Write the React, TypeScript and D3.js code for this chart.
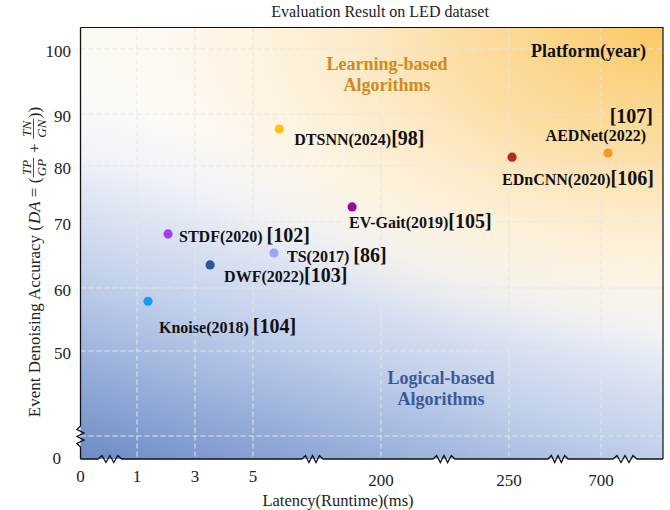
import React, { useMemo } from 'react';
import * as d3 from 'd3';

// axis values (the axis is broken, so each tick gets its own slot)
const xTicks = [0, 1, 3, 5, 200, 250, 700];
const yTicks = [0, 50, 60, 70, 80, 90, 100];
const yGrid = [10, 50, 60, 70, 80, 90, 100];

// methods
const names = ['DTSNN(2024)', 'EDnCNN(2020)', 'AEDNet(2022)', 'EV-Gait(2019)', 'STDF(2020) ', 'TS(2017) ', 'DWF(2022)', 'Knoise(2018) '];
const refs = ['[98]', '[106]', '[107]', '[105]', '[102]', '[86]', '[103]', '[104]'];
const latency = [45, 265, 734, 156, 2.07, 37, 3.52, 1.38];
const accuracy = [87.1, 81.7, 82.5, 72.7, 68.2, 65.3, 63.5, 57.9];
const colors = ['#fbc21b', '#b52a1a', '#f59a22', '#9c0a9e', '#a33cf5', '#a0a4f0', '#2e5597', '#139ef5'];

// axis break marks (in data units)
const xBreaks = [[0.31, 0.73], [79.6, 111.6], [220.3, 228.9], [440.8, 538.6], [758, 874]];
const yBreak = [5.2, 14.7];

// label placement relative to the dot
const labelPos = [
    { dx: 15, dy: 16, anchor: 'start' },
    { dx: -10, dy: 28, anchor: 'start' },
    { dx: 38, dy: -12, anchor: 'end', refDx: 45, refDy: -30 },
    { dx: -3, dy: 21, anchor: 'start' },
    { dx: 11, dy: 8, anchor: 'start' },
    { dx: 13, dy: 9, anchor: 'start' },
    { dx: 14, dy: 17, anchor: 'start' },
    { dx: 11, dy: 32, anchor: 'start' },
];

const SERIF = '"Liberation Serif", "Times New Roman", serif';
const W = 670;
const H = 510;

const x = d3.scaleLinear()
    .domain([0, 1, 3, 5, 200, 250, 700, 1000])
    .range([80.5, 137, 195, 253, 381, 509, 601, 663]);

const y = d3.scaleLinear()
    .domain([0, 10, 50, 60, 70, 80, 90, 100, 104])
    .range([459, 436, 351, 288, 222, 166, 114, 49, 27.5]);

const measure = (() => {
    const ctx = document.createElement('canvas').getContext('2d')!;
    return (text: string, font: string) => {
        ctx.font = font;
        return ctx.measureText(text).width;
    };
})();

const YLabel: React.FC = () => {
    const parts = useMemo(() => {
        const big = `17px ${SERIF}`;
        const bigI = `italic 17px ${SERIF}`;
        const smI = `italic 13px ${SERIF}`;
        const items: any[] = [];
        let pos = 0;
        const addText = (t: string, italic = false) => {
            items.push({ type: 'text', t, italic, x: pos });
            pos += measure(t, italic ? bigI : big);
        };
        const addFrac = (num: string, den: string) => {
            const w = Math.max(measure(num, smI), measure(den, smI)) + 3;
            items.push({ type: 'frac', num, den, x: pos, w });
            pos += w;
        };
        addText('Event Denoising Accuracy (');
        addText('DA', true);
        addText(' = (');
        addFrac('TP', 'GP');
        addText(' + ');
        addFrac('TN', 'GN');
        addText('))');
        return { items, total: pos };
    }, []);
    const start = -parts.total / 2;
    return (
        <g transform="translate(40,262) rotate(-90)" fontFamily={SERIF} fill="#222">
            {parts.items.map((it, i) =>
                it.type === 'text' ? (
                    <text key={i} x={start + it.x} y={0} fontSize={17} fontStyle={it.italic ? 'italic' : 'normal'} style={{ whiteSpace: 'pre' }}>
                        {it.t}
                    </text>
                ) : (
                    <g key={i}>
                        <text x={start + it.x + it.w / 2} y={-9} fontSize={13} fontStyle="italic" textAnchor="middle">{it.num}</text>
                        <line x1={start + it.x + 0.5} x2={start + it.x + it.w - 0.5} y1={-6.5} y2={-6.5} stroke="#222" strokeWidth={0.8} />
                        <text x={start + it.x + it.w / 2} y={5.5} fontSize={13} fontStyle="italic" textAnchor="middle">{it.den}</text>
                    </g>
                )
            )}
        </g>
    );
};

const zigX = (a: number, b: number, y0: number) => {
    const w = b - a;
    const off = [0, -3.5, 3.5, -3.5, 3.5, -3.5, 0];
    return off.map((o, i) => `${a + (i * w) / 6},${y0 + o}`).join(' L');
};

export default function App() {
    const x0 = x.range()[0];
    const x1 = x.range()[x.range().length - 1];
    const yB = y.range()[0];
    const yT = y.range()[y.range().length - 1];

    // bottom axis with zigzags
    let bottom = `M${x0},${yB}`;
    xBreaks.forEach(([a, b]) => {
        bottom += ` L${zigX(x(a), x(b), yB)}`;
    });
    bottom += ` L${x1},${yB}`;

    const ya = y(yBreak[1]);
    const yb = y(yBreak[0]);
    const offL = [0, -3.5, 3.5, -3.5, 3.5, -3.5, 0];
    const leftZig = offL.map((o, i) => `${x0 + o},${ya + (i * (yb - ya)) / 6}`).join(' L');
    const left = `M${x0},${yT} L${leftZig} L${x0},${yB}`;

    return (
        <svg width={W} height={H} style={{ position: 'absolute', left: 0, top: 0, background: '#fff' }} fontFamily={SERIF}>
            <defs>
                <linearGradient id="bg" gradientUnits="userSpaceOnUse" x1={279.5} y1={526.4} x2={462.5} y2={-66.4}>
                    <stop offset="0" stopColor="#6a89c5" />
                    <stop offset="0.2" stopColor="#a6bae0" />
                    <stop offset="0.3" stopColor="#c3d1eb" />
                    <stop offset="0.4" stopColor="#dbe3f2" />
                    <stop offset="0.48" stopColor="#f0f3f9" />
                    <stop offset="0.58" stopColor="#fdfbf6" />
                    <stop offset="1" stopColor="#fdf7ea" />
                </linearGradient>
                <radialGradient id="warm" gradientUnits="userSpaceOnUse" cx={0} cy={0} r={1}
                    gradientTransform="translate(663,27) scale(540,330)">
                    <stop offset="0" stopColor="#fbc965" stopOpacity={1} />
                    <stop offset="0.4" stopColor="#fcdca0" stopOpacity={0.9} />
                    <stop offset="0.75" stopColor="#fdeed2" stopOpacity={0.55} />
                    <stop offset="1" stopColor="#fdf3e0" stopOpacity={0} />
                </radialGradient>
            </defs>

            <text x={380} y={17} textAnchor="middle" fontSize={16} fill="#222">Evaluation Result on LED dataset</text>

            <rect x={x0} y={yT} width={x1 - x0} height={yB - yT} fill="url(#bg)" />
            <rect x={x0} y={yT} width={x1 - x0} height={yB - yT} fill="url(#warm)" />

            {/* grid */}
            <g stroke="#e6e6e6" strokeWidth={1} strokeDasharray="5 3">
                {xTicks.slice(1).map((t) => (
                    <line key={t} x1={x(t)} x2={x(t)} y1={yT} y2={yB} />
                ))}
                {yGrid.map((t) => (
                    <line key={t} x1={x0} x2={x1} y1={y(t)} y2={y(t)} />
                ))}
            </g>

            {/* frame */}
            <path d={`M${x0},${yT} L${x1},${yT} L${x1},${yB}`} fill="none" stroke="#111" strokeWidth={1.2} />
            <path d={bottom} fill="none" stroke="#111" strokeWidth={1.3} />
            <path d={left} fill="none" stroke="#111" strokeWidth={1.3} />

            {/* ticks */}
            <g fontSize={17} fill="#222">
                {xTicks.map((t) => (
                    <text key={t} x={x(t)} y={t > 5 ? 486 : 482} textAnchor="middle">{t}</text>
                ))}
                {yTicks.map((t) => (
                    <text key={t} x={t === 0 ? 61 : 71} y={y(t) + (t === 0 ? 5 : 8)} textAnchor="end">{t}</text>
                ))}
            </g>

            <text x={338} y={506} textAnchor="middle" fontSize={16.5} fill="#222">Latency(Runtime)(ms)</text>
            <YLabel />

            {/* region notes */}
            <g fontWeight="bold" fontSize={18} textAnchor="middle">
                <text x={387} y={70} fill="#d08a22">Learning-based</text>
                <text x={387} y={91} fill="#d08a22">Algorithms</text>
                <text x={441} y={384} fill="#3c5a9b">Logical-based</text>
                <text x={441} y={405} fill="#3c5a9b">Algorithms</text>
            </g>
            <text x={531} y={57} fontWeight="bold" fontSize={18} fill="#111">Platform(year)</text>

            {/* points */}
            {latency.map((v, i) => (
                <circle key={i} cx={x(v)} cy={y(accuracy[i])} r={4.6} fill={colors[i]} />
            ))}

            {/* labels */}
            <g fontWeight="bold" fill="#111">
                {latency.map((v, i) => {
                    const p = labelPos[i];
                    const cx = x(v);
                    const cy = y(accuracy[i]);
                    if (p.refDx !== undefined) {
                        return (
                            <g key={i}>
                                <text x={cx + p.dx} y={cy + p.dy} textAnchor={p.anchor} fontSize={16}>{names[i]}</text>
                                <text x={cx + p.refDx} y={cy + p.refDy!} textAnchor="end" fontSize={20}>{refs[i]}</text>
                            </g>
                        );
                    }
                    return (
                        <text key={i} x={cx + p.dx} y={cy + p.dy} textAnchor={p.anchor} style={{ whiteSpace: 'pre' }}>
                            <tspan fontSize={16}>{names[i]}</tspan>
                            <tspan fontSize={20}>{refs[i]}</tspan>
                        </text>
                    );
                })}
            </g>
        </svg>
    );
}
